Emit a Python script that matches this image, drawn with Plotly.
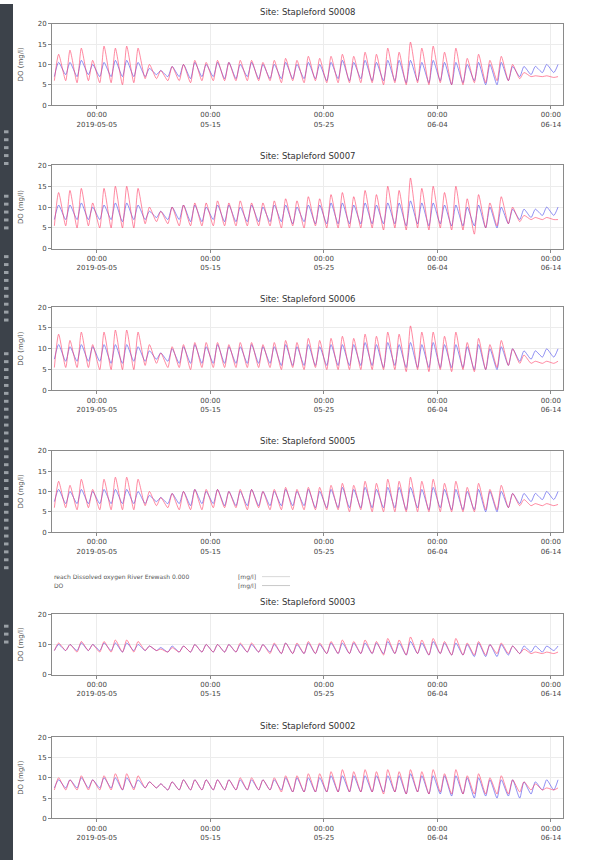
import pandas as pd
import plotly.graph_objects as go

W, H = 589, 864

DAYS = list(pd.date_range("2019-05-01", periods=45, freq="D"))
TICK_DATES = ["2019-05-05", "2019-05-15", "2019-05-25", "2019-06-04", "2019-06-14"]
TICK_TEXT = ["00:00<br>2019-05-05", "00:00<br>05-15", "00:00<br>05-25", "00:00<br>06-04", "00:00<br>06-14"]
SITES = ["S0008", "S0007", "S0006", "S0005", "S0003", "S0002"]
LEGEND_NAMES = ["reach Dissolved oxygen River Erewash 0.000", "DO"]
UNIT = "[mg/l]"

S0008_red_hi = [12.5,13.5,14,11,14.5,14,14.5,14,10,8.5,9.5,10,11,10.5,11,10.5,11,11,10.5,11,11.5,11,12,11.5,12,12.5,12,13,12.5,14,13,15.5,14,14.5,13,14,11.5,12.5,11,12,10,8,7.2,7.2,7]
S0008_red_lo = [6,6,5.5,6,5.5,5.5,5,5.5,6.5,6.5,6,6,5.5,6,6,6,6,6,6,6,5.5,6,5.5,6,5.5,5.5,5.5,5.5,5.5,5,5.5,5,5.5,5,5.5,5,5,5.5,5.5,6,6,6.5,7,7,6.8]
S0008_blue_hi = [10.5,10.5,11,10,10.5,11,11,10.5,9,8.5,9.5,10,10.5,10,10.5,10.5,10,10.5,10,10,10.5,10,10.5,10,10.5,11,10.5,11,10.5,11,11,11,10.5,11,10.5,10.5,10,10.5,10,10.5,9.5,9.5,9.5,10,10]
S0008_blue_lo = [7,7.5,7,7.5,7,7,7,7,7,7.5,7,7,6.5,7,7,6.5,6.5,7,6.5,6.5,6.5,6.5,6.5,6.5,6,6.5,6,6.5,6,6,6,5.5,6,5.5,6,5,5.5,6,5,5,6,7,7.5,8,8]

S0007_red_hi = [13.5,14,14.5,11,14.5,15,15,14.5,10,9,10,10.5,11,11,11.5,11,11.5,11,11,11.5,12,11.5,12.5,12,13,13.5,12.5,14,13,15,14,17,14.5,15,13.5,15,12,13,11,12.5,10,8,7.5,7.5,7]
S0007_red_lo = [5.5,5.5,5,5.5,5,5,5,5,6,6.5,6,5.5,5.5,5.5,5.5,5.5,5.5,5.5,5.5,5.5,5,5.5,5,5.5,5,5,5,5,5,4.5,5,4.5,5,4.5,5,4.5,4.5,3.5,5,5.5,6,6.5,7,7,7]
S0007_blue_hi = [10.5,10.5,11,10,10.5,11,11,10.5,9,9,10,10.5,10.5,10,10.5,10.5,10,10.5,10,10.5,10.5,10,10.5,10.5,11,11,10.5,11,10.5,11,11,11.5,11,11,10.5,10.5,10,10.5,10,10,9.5,9.5,9.5,10,10]
S0007_blue_lo = [7,7,7,7,7,7,6.5,7,7,7.5,7,7,6.5,6.5,7,6.5,6.5,6.5,6.5,6.5,6.5,6,6.5,6,6,6,6,6,6,6,6,5.5,6,5.5,6,5.5,5.5,5.5,5,5,6,7,7.5,8,8]

S0006_red_hi = [13.5,12,14,11,14,14.5,14.5,14,11,9,10.5,11,11.5,11.5,11.5,11,11.5,11.5,11,11.5,12,11.5,12.5,12,12.5,13,12.5,13.5,13,14,13.5,15.5,14,14,13,14,11.5,12.5,11,12,10,8.5,7,7,7]
S0006_red_lo = [5.5,5.5,5.5,5.5,5,5,5,5,6,6.5,5.5,5.5,5,5.5,5.5,5.5,5.5,5.5,5.5,5.5,5,5.5,5,5.5,5,5,5,5,5,5,5,4.5,5,4.5,5,4.5,5,4.5,5,5.5,6,6.5,6.5,6.5,6.5]
S0006_blue_hi = [11,10.5,11,10.5,11,11,11,10.5,9.5,9,10,10.5,11,10.5,11,10.5,10.5,11,10.5,10.5,11,10.5,11,10.5,11,11,11,11.5,11,11.5,11,11.5,11,11.5,11,11,10.5,11,10,10.5,10,9.5,9.5,10,10]
S0006_blue_lo = [7.5,7,7,7,7,6.5,6.5,7,7,7.5,7,6.5,6.5,6.5,6.5,6.5,6.5,6.5,6.5,6.5,6,6,6,6,6,6,6,6,6,5.5,6,5.5,5.5,5.5,5.5,5.5,5.5,5,5,5,6,7,7.5,8,8]

S0005_red_hi = [12.5,11.5,13,10.5,13,13.5,13.5,13,10,8.5,9.5,10,10.5,10.5,10.5,10,10.5,10.5,10,10.5,11,10.5,11,11,11.5,12,11.5,12.5,12,13,12.5,13.5,12.5,13,12,12.5,11,12,10.5,11.5,9.5,8,7,7,6.8]
S0005_red_lo = [6,6,5.5,6,5.5,5.5,5.5,5.5,6.5,6.5,6,5.5,5.5,5.5,6,6,6,5.5,6,5.5,5.5,5.5,5.5,5.5,5.5,5.5,5,5.5,5,5,5,5,5,5,5,5,5,5,5.5,5.5,6,6.5,6.5,6.5,6.5]
S0005_blue_hi = [10.5,10,10.5,10,10.5,10.5,10.5,10,9,8.5,9.5,10,10.5,10,10.5,10,10,10.5,10,10,10.5,10,10.5,10,10.5,11,10.5,11,10.5,11,11,11,10.5,11,10.5,10.5,10,10.5,10,10,9.5,9.5,9.5,10,10]
S0005_blue_lo = [7.5,7,7,7,7,7,7,7,7,7.5,7,7,6.5,7,7,6.5,6.5,6.5,6.5,6.5,6.5,6.5,6.5,6,6,6,6,6,6,6,6,5.5,6,5.5,6,5.5,5.5,5.5,5,5,6,7,7.5,8,8]

S0003_red_hi = [10.5,10,11,10,11,11.5,11.5,11,9.5,8.5,9,9.5,10,10,10,10,10.5,10.5,10,10.5,10.5,10.5,11,10.5,11,11.5,11,11.5,11,12,11.5,12.5,11.5,12,11,12,10.5,11,10,10.5,9.5,8.5,7.5,7.5,7.5]
S0003_red_lo = [8,8,7.5,8,7.5,7.5,7.5,7.5,8,8,7.5,7.5,7.5,7.5,7.5,7.5,7.5,7.5,7.5,7,7,7,7,7,7,7,7,7,7,6.5,7,6.5,7,6.5,7,6.5,6.5,6.5,6.5,7,7,7,7,7,7]
S0003_blue_hi = [10,10,10.5,10,10.5,10.5,10.5,10,9.5,9,9.5,9.5,10,10,10,10,10,10,10,10,10.5,10,10.5,10,10.5,10.5,10.5,10.5,10.5,11,10.5,11,10.5,11,10.5,10.5,10,10.5,10,10,9.5,9.5,9.5,9.5,9.5]
S0003_blue_lo = [8,8,8,8,8,8,7.5,8,8,8,7.5,7.5,7.5,7.5,7.5,7.5,7.5,7.5,7.5,7.5,7,7,7,7,7,7,7,7,7,7,7,6.5,7,6.5,7,6.5,6.5,6,6,6,6.5,7,7.5,7.5,8]

S0002_red_hi = [10,9.5,10.5,9.5,10.5,11,11,10.5,9,8.5,9,9.5,9.5,9.5,9.5,9.5,10,10,9.5,10,10.5,10.5,11,11,11.5,12,11.5,12,11.5,12,11.5,12,11.5,12,11,12,10.5,11,10,10.5,9.5,9,8.5,7.5,7.5]
S0002_red_lo = [7,7,7,7,7,7,7,7,7.5,7.5,7,7,7,7,7,7,7,7,7,7,6.5,6.5,6.5,6.5,6.5,6.5,6.5,6.5,6.5,6,6.5,6,6.5,6,6.5,6,6,6,6,6,6,6.5,7,7,7]
S0002_blue_hi = [9.5,9.5,10,9.5,10,10,10,9.5,9,8.5,9,9.5,9.5,9.5,9.5,9.5,9.5,9.5,9.5,9.5,10,10,10,10,10.5,10.5,10.5,10.5,10.5,10.5,10.5,11,10.5,10.5,10.5,10.5,10,10,9.5,9.5,9.5,9,9,9.5,9.5]
S0002_blue_lo = [7.5,7.5,7.5,7.5,7.5,7.5,7,7.5,7.5,7.5,7,7,7,7,7,7,7,7,7,7,7,6.5,6.5,6.5,6.5,6.5,6.5,6.5,6.5,6.5,6.5,6,6.5,6,6,5.5,6,5,5.5,5,5.5,5,6,7,7]

DATA = {
    "S0008": (S0008_red_hi, S0008_red_lo, S0008_blue_hi, S0008_blue_lo),
    "S0007": (S0007_red_hi, S0007_red_lo, S0007_blue_hi, S0007_blue_lo),
    "S0006": (S0006_red_hi, S0006_red_lo, S0006_blue_hi, S0006_blue_lo),
    "S0005": (S0005_red_hi, S0005_red_lo, S0005_blue_hi, S0005_blue_lo),
    "S0003": (S0003_red_hi, S0003_red_lo, S0003_blue_hi, S0003_blue_lo),
    "S0002": (S0002_red_hi, S0002_red_lo, S0002_blue_hi, S0002_blue_lo),
}

# layout (pixels)
X0, X1 = 52, 563
PANELS = [(20, 102), (163, 247), (306, 390), (451, 533), (616, 677), (740, 822)]
TITLE_Y = [8, 153, 298, 441, 604, 729]
YTICKS = [[0, 5, 10, 15, 20]] * 4 + [[0, 10, 20], [0, 5, 10, 15, 20]]

RED = "rgba(255,60,100,0.6)"
BLUE = "rgba(70,70,235,0.6)"
FONT = "DejaVu Sans"


def px(x):
    return x / W


def py(y):
    return 1 - y / H


def series(hi, lo):
    xs, ys = [], []
    for d, l, h in zip(DAYS, lo, hi):
        xs.append(d + pd.Timedelta(hours=6))
        ys.append(l)
        xs.append(d + pd.Timedelta(hours=15))
        ys.append(h)
    return xs, ys


fig = go.Figure()
annotations = []
shapes = []

for i, site in enumerate(SITES):
    rhi, rlo, bhi, blo = DATA[site]
    ax = "" if i == 0 else str(i + 1)
    xa, ya = "x" + ax, "y" + ax
    bx, by = series(bhi, blo)
    rx, ry = series(rhi, rlo)
    fig.add_trace(go.Scatter(x=bx, y=by, mode="lines", line=dict(color=BLUE, width=1, shape="spline", smoothing=0.6),
                             xaxis=xa, yaxis=ya, showlegend=False))
    fig.add_trace(go.Scatter(x=rx, y=ry, mode="lines", line=dict(color=RED, width=1, shape="spline", smoothing=0.6),
                             xaxis=xa, yaxis=ya, showlegend=False))
    top, bot = PANELS[i]
    common = dict(showline=True, linecolor="#8a8a8a", linewidth=1, mirror=True,
                  showgrid=True, gridcolor="#ececec", gridwidth=1, zeroline=False,
                  ticks="outside", ticklen=3, tickcolor="#8a8a8a",
                  tickfont=dict(family=FONT, size=7, color="#444"))
    fig.layout["xaxis" + ax] = dict(
        domain=[px(X0), px(X1)], anchor=ya, type="date",
        range=["2019-05-01 01:00", "2019-06-15 01:30"],
        tickvals=TICK_DATES, ticktext=TICK_TEXT, **common)
    fig.layout["yaxis" + ax] = dict(
        domain=[py(bot), py(top)], anchor=xa, range=[0, 20],
        tickvals=YTICKS[i], **common)
    annotations.append(dict(text="Site: Stapleford " + site, x=px((X0 + X1) / 2), y=py(TITLE_Y[i]),
                            xref="paper", yref="paper", showarrow=False,
                            xanchor="center", yanchor="middle",
                            font=dict(family=FONT, size=8.5, color="#333")))
    annotations.append(dict(text="DO (mg/l)", x=px(21), y=py((top + bot) / 2),
                            xref="paper", yref="paper", showarrow=False, textangle=-90,
                            xanchor="center", yanchor="middle",
                            font=dict(family=FONT, size=7, color="#555")))

# legend block between panels 4 and 5
LEG_Y = [578, 587]
LEG_COL = ["#d8d8d8", "#c8c8c8"]
for name, y, col in zip(LEGEND_NAMES, LEG_Y, LEG_COL):
    annotations.append(dict(text=name, x=px(52), y=py(y), xref="paper", yref="paper",
                            showarrow=False, xanchor="left", yanchor="middle",
                            font=dict(family=FONT, size=6, color="#555")))
    annotations.append(dict(text=UNIT, x=px(236), y=py(y), xref="paper", yref="paper",
                            showarrow=False, xanchor="left", yanchor="middle",
                            font=dict(family=FONT, size=6, color="#555")))
    shapes.append(dict(type="line", xref="paper", yref="paper",
                       x0=px(262), x1=px(290), y0=py(y), y1=py(y),
                       line=dict(color=col, width=1)))

# dark side bar with small markers
shapes.append(dict(type="rect", xref="paper", yref="paper", x0=0, x1=px(13), y0=0, y1=1,
                   fillcolor="#3c424a", line=dict(width=0), layer="below"))
DOT_GROUPS = [(129, 5), (194, 5), (255, 9), (353, 28), (628, 3)]
for start, n in DOT_GROUPS:
    for k in range(n):
        yy = start + 8 * k
        shapes.append(dict(type="rect", xref="paper", yref="paper",
                           x0=px(4), x1=px(8.5), y0=py(yy + 1.5), y1=py(yy - 1.5),
                           fillcolor="#9aa0a6", line=dict(width=0)))

fig.update_layout(width=W, height=H, margin=dict(l=0, r=0, t=0, b=0),
                  paper_bgcolor="white", plot_bgcolor="white",
                  annotations=annotations, shapes=shapes, showlegend=False)

fig.write_html("out.html", config={"displayModeBar": False},
               post_script="document.body.style.margin='0px';document.body.style.overflow='hidden';")
